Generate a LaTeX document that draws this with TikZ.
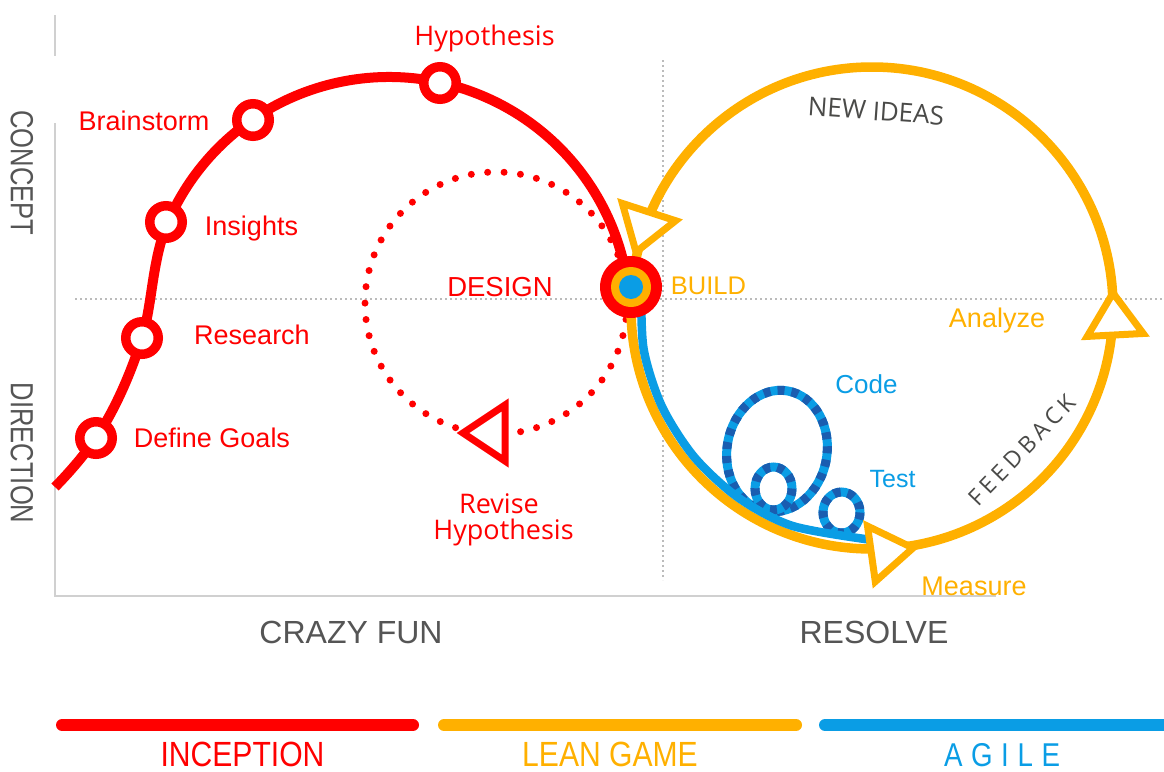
\documentclass[tikz,border=0pt]{standalone}
\usepackage{fontspec}
\setmainfont{Liberation Sans}
\newfontfamily\opensans{Open Sans}
\newfontfamily\spacedopen[LetterSpace=20]{Open Sans}
\newfontfamily\narrowsans[FakeStretch=0.86]{Liberation Sans}
\newfontfamily\axisnarrow[FakeStretch=0.8]{Liberation Sans}
\newfontfamily\spacednarrow[FakeStretch=0.84,LetterSpace=26]{Liberation Sans}

\definecolor{incred}{HTML}{FF0000}
\definecolor{leanorange}{HTML}{FFB000}
\definecolor{agileblue}{HTML}{0A9DE5}
\definecolor{dashblue}{HTML}{1A5DB0}
\definecolor{axisgray}{HTML}{D0D0D0}
\definecolor{guidegray}{HTML}{BBBBBB}
\definecolor{labelgray}{HTML}{555555}
\definecolor{notegray}{HTML}{4A4A48}

\begin{document}
\begin{tikzpicture}[
  x=1pt, y=-1pt,
  every node/.style={inner sep=0pt, outer sep=0pt},
  guide/.style={guidegray, line width=1.5pt, dash pattern=on 2pt off 3pt},
  axisline/.style={axisgray, line width=2.5pt},
  redlbl/.style={anchor=base, text=incred, font=\fontsize{27}{30}\selectfont},
  orglbl/.style={anchor=base, text=leanorange, font=\fontsize{27}{30}\selectfont},
  bluelbl/.style={anchor=base, text=agileblue, font=\fontsize{26}{30}\selectfont},
  grouplbl/.style={anchor=base, text=labelgray, font=\fontsize{32}{36}\selectfont},
  sidelbl/.style={rotate=-90, text=labelgray, font=\axisnarrow\fontsize{32}{36}\selectfont},
  legendbar/.style={line width=12pt, line cap=round},
  legendlbl/.style={anchor=base, font=\narrowsans\fontsize{35}{38}\selectfont},
  ringnode/.style={circle, draw=incred, line width=9.5pt, fill=white, minimum size=32.5pt},
  loopbase/.style={agileblue, line width=9pt},
  loopdash/.style={dashblue, line width=9pt, dash pattern=on 7pt off 7pt},
  opentri/.pic={\draw[line width=7pt, fill=white, line join=miter]
      (0,0) -- (-42,-28) -- (-42,28) -- cycle;}
]
\useasboundingbox (0,0) rectangle (1164,771);

% dotted guide lines
\draw[guide] (75,299) -- (1164,299);
\draw[guide] (663,60) -- (663,580);

% axes
\draw[axisline] (55,15) -- (55,56);
\draw[axisline] (55,123) -- (55,596) -- (996,596);

% DESIGN loop (dotted) and its arrow
\draw[incred, line width=7pt, line cap=round, dash pattern=on 0pt off 16.46pt]
  (496,303) circle[radius=131];
\pic[incred, rotate=180] at (463,433) {opentri};

% LEAN GAME loop
\draw[leanorange, line width=9.5pt] (872,308) circle[radius=241];

% Code / Test loops
\foreach \cx/\cy/\rx/\ry/\ang in {777/451/50/61/-10, 773.5/488.5/18.5/21.5/0, 841.5/512.5/18.5/20.5/0}{
  \draw[loopbase, rotate around={\ang:(\cx,\cy)}] (\cx,\cy) ellipse[x radius=\rx, y radius=\ry];
  \draw[loopdash, rotate around={\ang:(\cx,\cy)}] (\cx,\cy) ellipse[x radius=\rx, y radius=\ry];
}

% AGILE track along the inside of the loop
\draw[agileblue, line width=8.5pt, line cap=round] plot[smooth] coordinates
  {(641.3,283.8) (643.5,348.3) (661.7,406.0) (694.3,457.1) (738.9,498.1) (792.7,526.0) (872,540)};

% LEAN GAME arrows
\pic[leanorange, rotate=8] at (913,548) {opentri};
\pic[leanorange, rotate=93] at (1113,293) {opentri};
\pic[leanorange, rotate=-108] at (636,252) {opentri};

% INCEPTION curve: rising S-bend, then an arc over the top into BUILD
\draw[incred, line width=10pt]
  (55,487) .. controls (69,472.8) and (84.8,454.6) .. (96,438)
  .. controls (115.6,409) and (131.5,371.4) .. (142,338)
  .. controls (152.5,304.6) and (151.9,259.4) .. (167.7,222.7)
  arc[start angle=203.3, end angle=352.4, radius=241];

% milestones on the curve
\node[ringnode] (goals) at (96,438) {};
\node[ringnode] (research) at (142,338) {};
\node[ringnode] (insights) at (166,222) {};
\node[ringnode] (brainstorm) at (253,120) {};
\node[ringnode] (hypo) at (440,83) {};

% BUILD hub
\node[circle, fill=incred, minimum size=62pt] (hub) at (631,287) {};
\node[circle, fill=leanorange, minimum size=40pt] (hubmid) at (hub.center) {};
\node[circle, fill=agileblue, minimum size=24pt] (hubcore) at (hub.center) {};

% labels
\node[redlbl, font=\opensans\fontsize{27}{30}\selectfont] (thypo) at (484.5,45) {Hypothesis};
\node[redlbl] (tbrain) at (144,130.5) {Brainstorm};
\node[redlbl] (tins) at (251.5,235.5) {Insights};
\node[redlbl] (tres) at (252,344.5) {Research};
\node[redlbl] (tgoals) at (212,447.5) {Define Goals};
\node[redlbl, font=\fontsize{27.5}{30}\selectfont] (tdesign) at (500,296) {DESIGN};
\node[redlbl, font=\opensans\fontsize{27}{30}\selectfont] (trev1) at (499,513) {Revise};
\node[redlbl, font=\opensans\fontsize{27}{30}\selectfont] (trev2) at (503.5,539) {Hypothesis};

\node[orglbl, font=\fontsize{25.5}{30}\selectfont] (tbuild) at (708.5,294) {BUILD};
\node[orglbl] (tanalyze) at (997,327.5) {Analyze};
\node[orglbl] (tmeasure) at (974,595) {Measure};

\node[bluelbl] (tcode) at (866.5,393) {Code};
\node[bluelbl, font=\fontsize{25}{30}\selectfont] (ttest) at (892.5,487) {Test};

\node[text=notegray, rotate=-4, font=\opensans\fontsize{26}{30}\selectfont] (tideas) at (876,111) {NEW IDEAS};
\node[text=notegray, rotate=46, font=\spacedopen\fontsize{23}{26}\selectfont] (tfeed) at (1022,450) {FEEDBACK};

% axis labels
\node[sidelbl] (tconcept) at (22,173) {CONCEPT};
\node[sidelbl] (tdirection) at (22,453) {DIRECTION};
\node[grouplbl] (tcrazy) at (351,643) {CRAZY FUN};
\node[grouplbl] (tresolve) at (874,643) {RESOLVE};

% legend
\draw[legendbar, incred] (62,725) -- (413,725);
\draw[legendbar, leanorange] (444,725) -- (796,725);
\draw[legendbar, agileblue] (825,725) -- (1180,725);
\node[legendlbl, text=incred] (tincep) at (242.5,766) {INCEPTION};
\node[legendlbl, text=leanorange] (tlean) at (610,766) {LEAN GAME};
\node[legendlbl, text=agileblue, font=\spacednarrow\fontsize{33}{36}\selectfont] (tagile) at (1002,766) {AGILE};
\end{tikzpicture}
\end{document}
